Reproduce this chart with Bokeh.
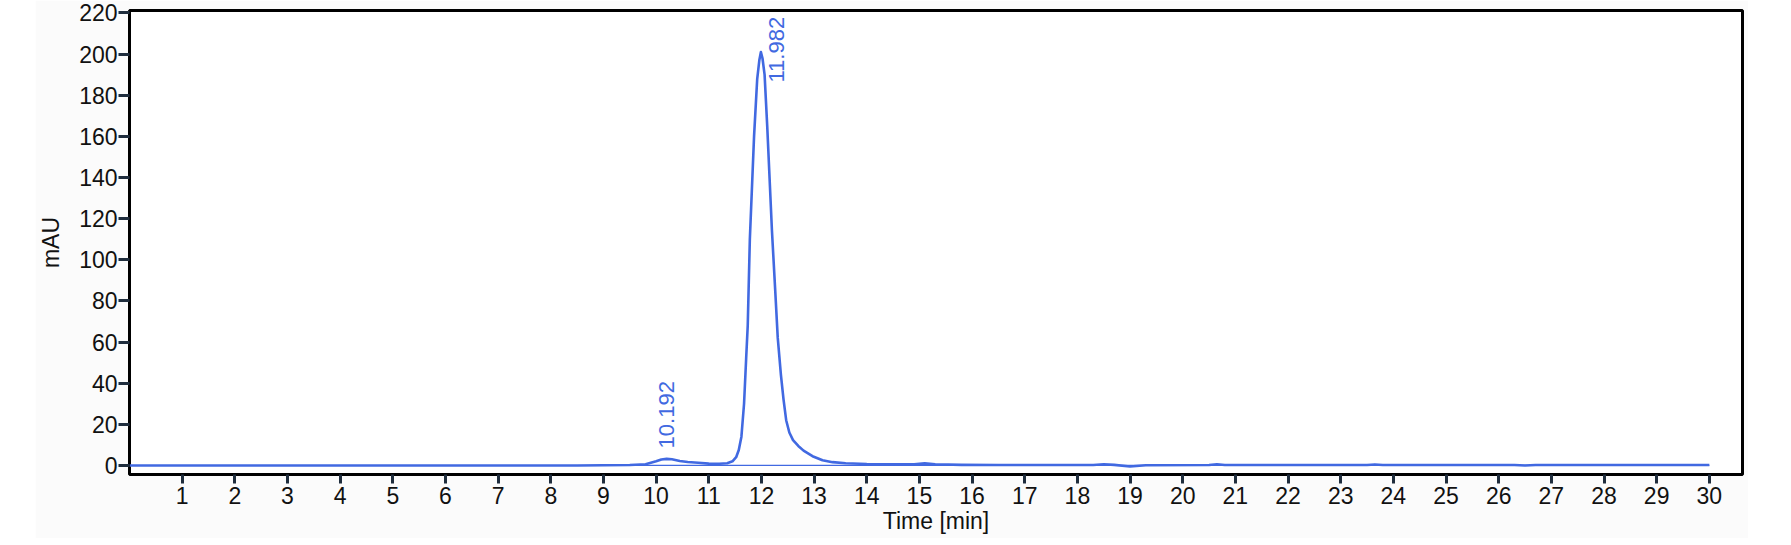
#Chromatogram, bokeh
import numpy as np
from math import pi

from bokeh.plotting import figure
from bokeh.models import Range1d, FixedTicker, Spacer
from bokeh.layouts import row
from bokeh.core.properties import value
from bokeh.embed import file_html
from bokeh.resources import INLINE

############ DATA #############

# retention time [min] and signal [mAU]
time_min = [0.0, 8.5, 9.0, 9.5, 9.8, 10.0, 10.1, 10.2, 10.3, 10.45, 10.6, 10.8, 11.0, 11.2,
             11.35, 11.45, 11.52, 11.57, 11.62, 11.67, 11.71, 11.74, 11.78, 11.86, 11.92, 11.96,
             11.99, 12.02, 12.06, 12.11, 12.20, 12.26, 12.31, 12.37, 12.42, 12.47, 12.53, 12.60,
             12.70, 12.80, 12.97, 13.16, 13.35, 13.60, 14.0, 14.5, 14.9, 15.1, 15.3, 15.8, 16.5,
             18.3, 18.5, 18.7, 19.0, 19.3, 20.5, 20.65, 20.8, 23.5, 23.65, 23.8, 26.3, 26.5,
             26.7, 30.0]
signal_mau = [0.0, 0.0, 0.1, 0.2, 0.6, 2.0, 2.9, 3.2, 3.0, 2.2, 1.7, 1.3, 0.9, 0.8,
              1.1, 2.0, 4.0, 7.5, 14.0, 30.0, 52.0, 68.0, 110.0, 160.0, 188.0, 197.0,
              201.0, 198.0, 190.0, 165.0, 114.0, 86.0, 62.0, 44.0, 32.0, 22.0, 16.0, 12.3,
              9.5, 7.2, 4.5, 2.5, 1.6, 1.1, 0.7, 0.5, 0.6, 1.0, 0.6, 0.3, 0.2,
              0.2, 0.6, 0.3, -0.5, 0.1, 0.2, 0.6, 0.2, 0.2, 0.5, 0.2, 0.2, 0.0,
              0.2, 0.2]

# integration baseline
baseline_t = [9.0, 30.0]
baseline_v = [0.0, 0.0]

# peak labels
peak_names = ["10.192", "11.982"]
peak_label_t = [10.19, 12.29]
peak_label_v = [8.3, 186.2]

x_ticks = list(range(1, 31))
y_ticks = list(range(0, 221, 20))

############ PLOT #############

FONT = "Liberation Sans"
BLUE = "#4169E1"

p = figure(width=1713, height=538, output_backend="svg", toolbar_location=None,
           x_range=Range1d(0, 30.63), y_range=Range1d(-4.4, 221.2),
           x_axis_label="Time [min]", y_axis_label="mAU",
           min_border_left=90, min_border_right=6, min_border_top=10, min_border_bottom=64)
p.border_fill_color = "#fbfbfb"
p.background_fill_color = "white"
p.outline_line_color = "black"
p.outline_line_width = 3
p.grid.visible = False

p.xaxis.ticker = FixedTicker(ticks=x_ticks)
p.yaxis.ticker = FixedTicker(ticks=y_ticks)
for ax in p.axis:
    ax.axis_line_color = None
    ax.minor_tick_line_color = None
    ax.major_tick_in = 0
    ax.major_tick_line_width = 3
    ax.major_tick_line_color = "#1f2d3d"
    ax.major_label_text_font = FONT
    ax.major_label_text_font_size = "23px"
    ax.major_label_text_color = "#111111"
    ax.axis_label_text_font = FONT
    ax.axis_label_text_font_size = "23px"
    ax.axis_label_text_font_style = "normal"
    ax.axis_label_text_color = "#111111"
p.xaxis.major_tick_out = 9
p.xaxis.major_label_standoff = 3
p.xaxis.axis_label_standoff = 1
p.yaxis.major_tick_out = 11
p.yaxis.major_label_standoff = 1
p.yaxis.axis_label_standoff = 12

p.line(baseline_t, baseline_v, line_color=BLUE, line_width=1.3)
p.line(time_min, signal_mau, line_color=BLUE, line_width=2.6, line_join="round")

p.text(peak_label_t, peak_label_v, text=peak_names, angle=pi / 2,
       text_align="left", text_baseline="middle", text_color=BLUE,
       text_font=value(FONT), text_font_size="22px")

layout = row(Spacer(width=35, height=538), p)

open("out.html", "w").write(file_html(layout, INLINE))
